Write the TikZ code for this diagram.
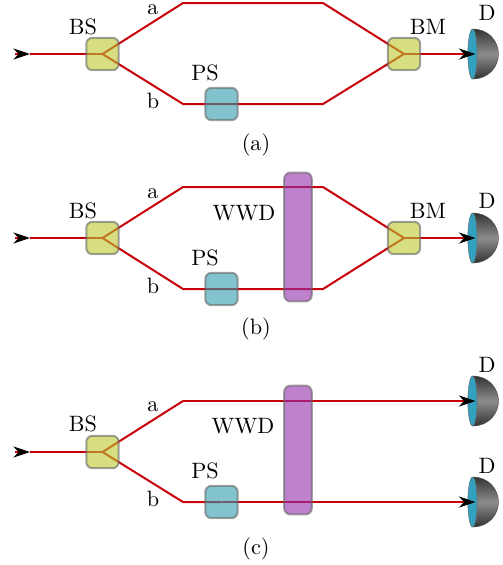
\documentclass[tikz,border=0pt]{standalone}
\usepackage{amsmath}
\usetikzlibrary{arrows.meta,backgrounds}
\definecolor{beamred}{RGB}{200,0,10}
\definecolor{splityellow}{RGB}{188,200,47}
\definecolor{phaseteal}{RGB}{47,155,172}
\definecolor{wwdpurple}{RGB}{147,47,172}
\definecolor{detblue}{RGB}{50,160,190}
\tikzset{
  element/.style={draw=black!60, draw opacity=0.6, line width=0.9pt, rounded corners=2.8pt, fill opacity=0.6, minimum size=14.6pt, inner sep=0pt},
  splitter/.style={element, fill=splityellow},
  shifter/.style={element, fill=phaseteal},
  wwdbar/.style={element, fill=wwdpurple, minimum width=12.4pt, minimum height=58pt},
  beam/.style={beamred, line width=0.9pt},
  arrowbeam/.style={beam, -{Stealth[black, length=7.5pt, width=5pt, inset=2.4pt]}},
  lab/.style={inner sep=0pt},
  detector/.pic={
    \shade[top color=black!80, bottom color=black!80, middle color=black!45, draw=black!70, line width=0.2pt]
      (0,-25) .. controls (16,-25) and (26,-13) .. (26,0) .. controls (26,13) and (16,25) .. (0,25) -- cycle;
    \draw[fill=detblue, draw=black!60, line width=0.2pt] (0,0) ellipse (2.1pt and 11.25pt);
    \coordinate (-in) at (3,0);
  }
}
\begin{document}
\begin{tikzpicture}[x=0.45pt, y=-0.45pt]
\useasboundingbox (0,0) rectangle (503,565);
%first
\node[splitter] (bsa) at (102.5,54) {};
\node[shifter] (psa) at (221.5,104) {};
\node[splitter] (bma) at (404,54) {};
\coordinate (ina) at (15,54);
\coordinate (inb) at (30,54);
\coordinate (ua) at (183,3);
\coordinate (ub) at (323,3);
\coordinate (la) at (183,104);
\coordinate (lb) at (323,104);
\node[lab] (tbsa) at (83,27) {BS};
\node[lab] (taa) at (153,10) {a};
\node[lab] (tba) at (153,101) {b};
\node[lab] (tpsa) at (205,73) {PS};
\node[lab] (tbma) at (428,27) {BM};
\node[lab] (tda) at (487,13) {D};
\node[lab] (capa) at (256,145) {(a)};

%second
\node[splitter] (bsb) at (102.5,238) {};
\node[shifter] (psb) at (221.5,289) {};
\node[wwdbar] (wwdb) at (298,237) {};
\node[splitter] (bmb) at (404,238) {};
\coordinate (inc) at (15,238);
\coordinate (ind) at (30,238);
\coordinate (uc) at (183,187);
\coordinate (ud) at (323,187);
\coordinate (lc) at (183,289);
\coordinate (ld) at (323,289);
\node[lab] (tbsb) at (83,211) {BS};
\node[lab] (tab) at (153,194) {a};
\node[lab] (tbb) at (153,286) {b};
\node[lab] (tpsb) at (205,258) {PS};
\node[lab] (twwdb) at (244,213) {WWD};
\node[lab] (tbmb) at (428,211) {BM};
\node[lab] (tdb) at (487,201) {D};
\node[lab] (capb) at (256,329) {(b)};

%third
\node[splitter] (bsc) at (102.5,452) {};
\node[shifter] (psc) at (221.5,502) {};
\node[wwdbar] (wwdc) at (298,450) {};
\coordinate (ine) at (15,452);
\coordinate (inf) at (30,452);
\coordinate (ue) at (183,401);
\coordinate (le) at (183,502);
\node[lab] (tbsc) at (83,424) {BS};
\node[lab] (tac) at (153,407) {a};
\node[lab] (tbc) at (153,499) {b};
\node[lab] (tpsc) at (205,471) {PS};
\node[lab] (twwdc) at (243,426) {WWD};
\node[lab] (tdc) at (487,365) {D};
\node[lab] (tdd) at (487,466) {D};
\node[lab] (capc) at (256,549) {(c)};

%beams and detectors go under the elements
\begin{scope}[on background layer]
\pic (da) at (472.5,54) {detector};
\pic (db) at (472.5,238) {detector};
\pic (dc) at (472.5,401) {detector};
\pic (dd) at (472.5,502) {detector};

\draw[arrowbeam] (ina) -- (inb);
\draw[beam] (inb) -- (bsa.center);
\draw[beam] (bsa.center) -- (ua) -- (ub) -- (bma.center);
\draw[beam] (bsa.center) -- (la) -- (psa.center) -- (lb) -- (bma.center);
\draw[arrowbeam] (bma.center) -- (da-in);

\draw[arrowbeam] (inc) -- (ind);
\draw[beam] (ind) -- (bsb.center);
\draw[beam] (bsb.center) -- (uc) -- (ud) -- (bmb.center);
\draw[beam] (bsb.center) -- (lc) -- (psb.center) -- (ld) -- (bmb.center);
\draw[arrowbeam] (bmb.center) -- (db-in);

\draw[arrowbeam] (ine) -- (inf);
\draw[beam] (inf) -- (bsc.center);
\draw[beam] (bsc.center) -- (ue);
\draw[arrowbeam] (ue) -- (dc-in);
\draw[beam] (bsc.center) -- (le) -- (psc.center);
\draw[arrowbeam] (psc.center) -- (dd-in);
\end{scope}
\end{tikzpicture}
\end{document}
